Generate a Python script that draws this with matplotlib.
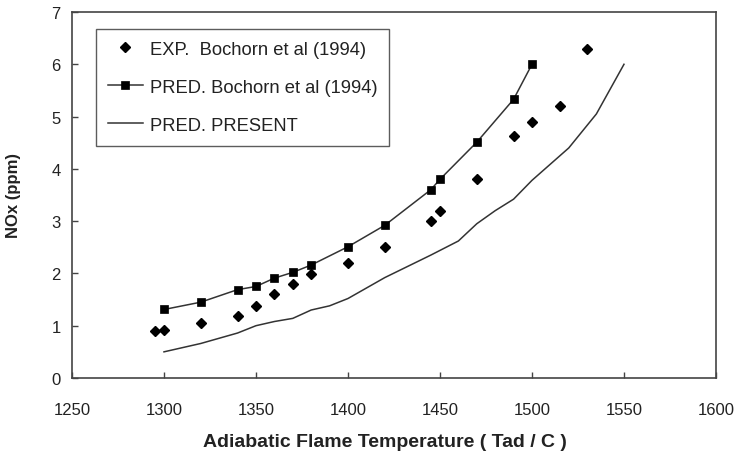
import matplotlib.pyplot as plt

plt.rcParams['font.family'] = ['Liberation Sans', 'DejaVu Sans']

# Experimental NOx data, Bochorn et al (1994)
exp_t = [1295, 1300, 1320, 1340, 1350, 1360, 1370, 1380, 1400, 1420,
         1445, 1450, 1470, 1490, 1500, 1515, 1530]
exp_nox = [0.90, 0.92, 1.05, 1.19, 1.38, 1.60, 1.79, 1.98, 2.20, 2.50,
           3.00, 3.20, 3.80, 4.62, 4.90, 5.20, 6.30]

# Predictions from Bochorn et al (1994)
bo_t = [1300, 1320, 1340, 1350, 1360, 1370, 1380, 1400, 1420, 1445,
        1450, 1470, 1490, 1500]
bo_nox = [1.31, 1.45, 1.69, 1.75, 1.91, 2.02, 2.16, 2.51, 2.92, 3.60,
          3.80, 4.51, 5.33, 6.00]

# Present model prediction
pr_t = [1300, 1320, 1340, 1350, 1360, 1370, 1380, 1390, 1400, 1420,
        1445, 1460, 1470, 1480, 1490, 1500, 1520, 1535, 1550]
pr_nox = [0.50, 0.66, 0.86, 1.00, 1.08, 1.14, 1.30, 1.38, 1.52, 1.92,
          2.35, 2.62, 2.95, 3.20, 3.42, 3.78, 4.40, 5.05, 6.00]

xticks = [1250, 1300, 1350, 1400, 1450, 1500, 1550, 1600]
yticks = [0, 1, 2, 3, 4, 5, 6, 7]

ink = '#222222'
fig = plt.figure(figsize=(7.36, 4.56), dpi=100)
ax = fig.add_axes([0.0978, 0.1689, 0.875, 0.8026])

ax.plot(exp_t, exp_nox, linestyle='none', marker='D', ms=5.2,
        color='black', label='EXP.  Bochorn et al (1994)')
ax.plot(bo_t, bo_nox, '-', color='#333333', lw=1.1, marker='s', ms=5.6,
        mfc='black', mec='black', mew=0.5, label='PRED. Bochorn et al (1994)')
ax.plot(pr_t, pr_nox, '-', color='#333333', lw=1.1,
        label='PRED. PRESENT')

ax.set_xlim(1250, 1600)
ax.set_ylim(0, 7)
ax.set_xticks(xticks)
ax.set_yticks(yticks)
ax.tick_params(direction='in', length=4, width=1, colors='#444444',
               labelcolor=ink, labelsize=12, pad=8)
ax.tick_params(axis='x', pad=17)
for s in ax.spines.values():
    s.set_color('#444444')
    s.set_linewidth(1.2)

ax.set_xlabel('Adiabatic Flame Temperature ( Tad / C )', fontsize=14,
              fontweight='bold', color=ink, labelpad=12)
ax.xaxis.label.set_x(0.486)
ax.set_ylabel('NOx (ppm)', fontsize=12, fontweight='bold', color=ink,
              labelpad=22)

leg = ax.legend(loc='upper left', bbox_to_anchor=(0.037, 0.954),
                borderaxespad=0, fontsize=13.2, frameon=True, fancybox=False,
                handlelength=1.9, labelspacing=1.15, borderpad=0.65,
                handletextpad=0.4)
leg.get_frame().set_edgecolor('#333333')
leg.get_frame().set_linewidth(1.0)
for t in leg.get_texts():
    t.set_color(ink)

fig.savefig('out.png', dpi=100)
